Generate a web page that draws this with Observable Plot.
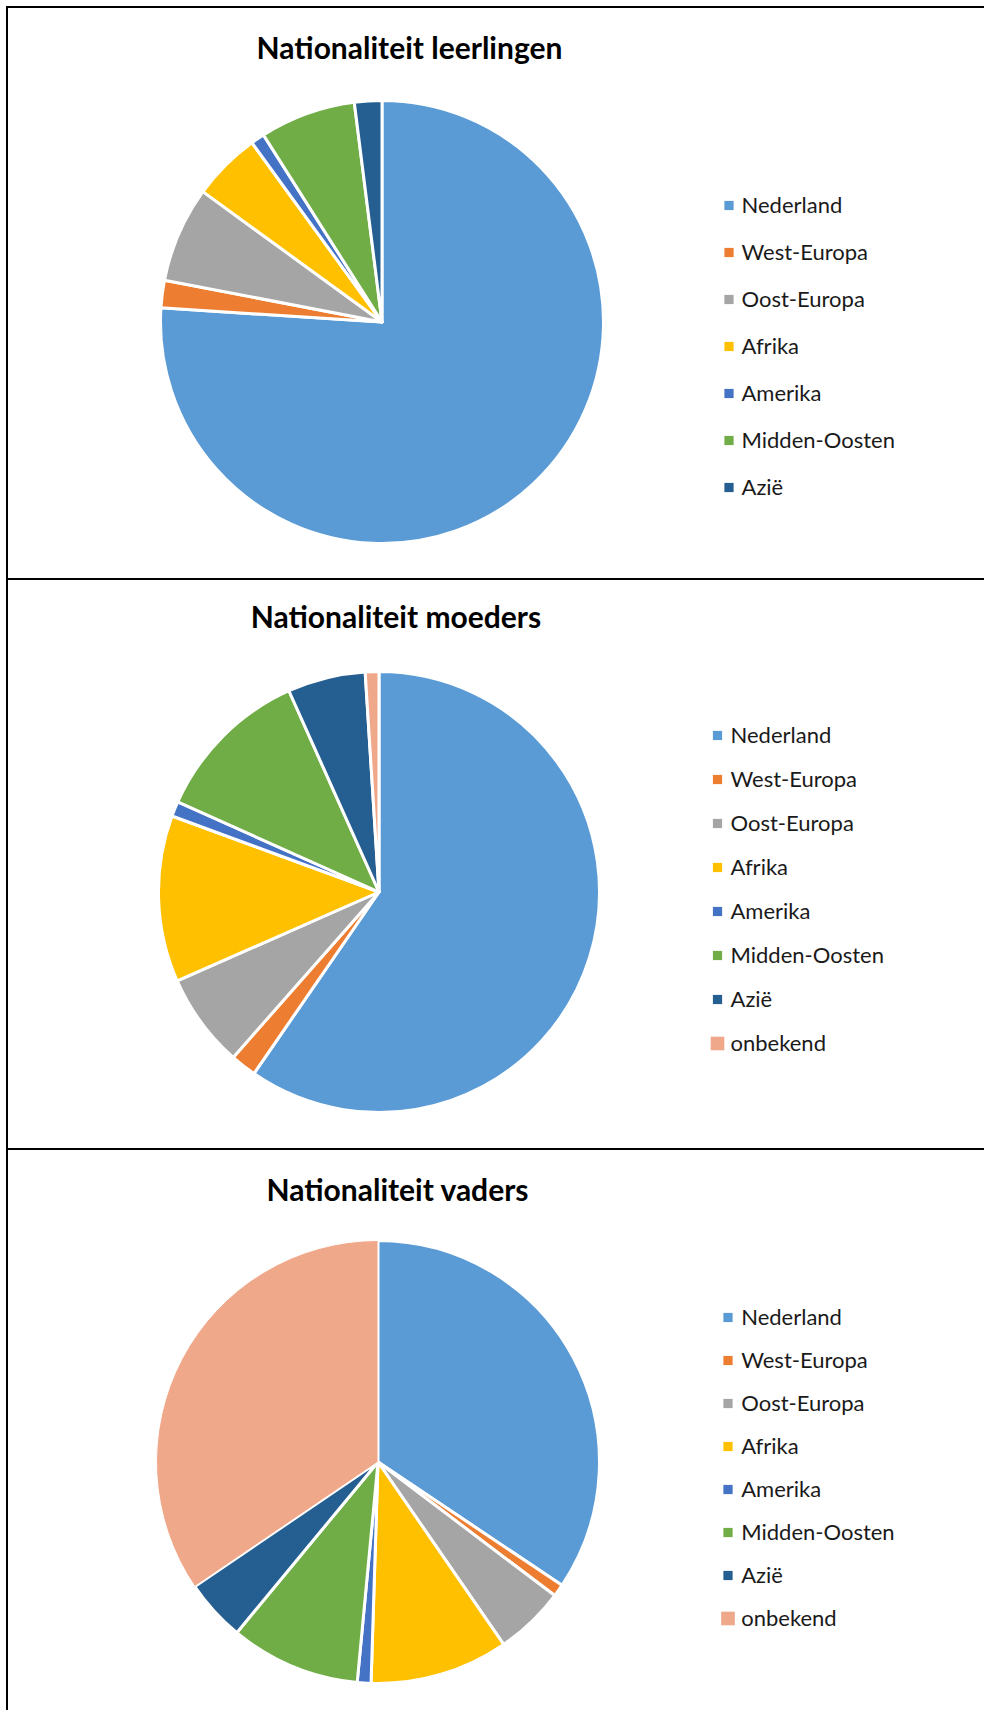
<!DOCTYPE html>
<html>
<head>
<meta charset="utf-8">
<script src="https://cdn.jsdelivr.net/npm/d3@7"></script>
<script src="https://cdn.jsdelivr.net/npm/@observablehq/plot@0.6"></script>
<style>
  html, body { margin: 0; padding: 0; background: #fff; overflow: hidden; }
  body { position: relative; width: 984px; height: 1710px; font-family: Lato, "Open Sans", sans-serif; }
  .panel { position: absolute; left: 0; }
  .panel svg { display: block; background: transparent; }
  .rule { position: absolute; background: #000; z-index: 5; }
</style>
</head>
<body>
<div id="p1" class="panel" style="top:8px"></div>
<div id="p2" class="panel" style="top:580px"></div>
<div id="p3" class="panel" style="top:1150px"></div>
<div class="rule" style="left:6px;top:6px;width:2px;height:1704px"></div>
<div class="rule" style="left:6px;top:6px;width:978px;height:2px"></div>
<div class="rule" style="left:6px;top:578px;width:978px;height:2px"></div>
<div class="rule" style="left:6px;top:1148px;width:978px;height:2px"></div>
<script>
// ---- data ----
const categories = ["Nederland", "West-Europa", "Oost-Europa", "Afrika", "Amerika", "Midden-Oosten", "Azië", "onbekend"];
const colors = ["#5B9BD5", "#ED7D31", "#A5A5A5", "#FFC000", "#4472C4", "#70AD47", "#255E91", "#F0A88B"];
const titles = ["Nationaliteit leerlingen", "Nationaliteit moeders", "Nationaliteit vaders"];
const leerlingen = [76.1, 2.0, 7.0, 5.0, 1.0, 7.0, 2.0];
const moeders = [59.6, 1.9, 6.9, 12.2, 1.1, 11.6, 5.7, 1.0];
const vaders = [34.4, 0.9, 5.1, 10.1, 1.0, 9.5, 4.5, 34.5];

// ---- layout (per panel, pixels inside each panel's svg) ----
const panels = [
  {id: "p1", values: leerlingen, title: titles[0], height: 570,
   titleX: 409, titleY: 50, cx: 382, cy: 314, r: 220,
   markerX: 728.5, textX: 741, legendTop: 195.6, legendBottom: 480, thin: null},
  {id: "p2", values: moeders, title: titles[1], height: 568,
   titleX: 395.5, titleY: 47, cx: 379, cy: 312, r: 219,
   markerX: 717, textX: 730, legendTop: 154.7, legendBottom: 463.3, thin: null},
  {id: "p3", values: vaders, title: titles[2], height: 560,
   titleX: 397, titleY: 50, cx: 378, cy: 312, r: 220,
   markerX: 727.5, textX: 740.7, legendTop: 163.5, legendBottom: 471, thin: "onbekend"}
];

const fallbackColor = d3.scaleOrdinal(categories, colors);

function pieMark(rows, p) {
  return (index, scales) => {
    const color = scales && scales.color ? scales.color : fallbackColor;
    const arcs = d3.pie().sort(null).startAngle(0).endAngle(2 * Math.PI).value(d => d.value)(rows);
    const arc = d3.arc().innerRadius(0).outerRadius(p.r + 1.5);
    const g = d3.create("svg:g").attr("transform", `translate(${p.cx},${p.cy})`);
    g.selectAll("path").data(arcs).join("path")
      .attr("d", arc)
      .attr("fill", d => color(d.data.category))
      .attr("stroke", "#fff")
      .attr("stroke-width", d => d.data.category === p.thin ? 1 : 3)
      .attr("stroke-linejoin", "round");
    return g.node();
  };
}

for (const p of panels) {
  const rows = p.values.map((v, i) => ({category: categories[i], value: v}));
  const legendCats = rows.map(d => d.category);
  const small = rows.filter(d => d.category !== "onbekend");
  const big = rows.filter(d => d.category === "onbekend");
  const chart = Plot.plot({
    width: 984,
    height: p.height,
    margin: 0,
    style: {background: "transparent", fontFamily: "Lato, 'Open Sans', sans-serif"},
    color: {domain: categories, range: colors},
    y: {type: "point", domain: legendCats, range: [p.legendTop, p.legendBottom], padding: 0, axis: null},
    marks: [
      pieMark(rows, p),
      Plot.dot(small, {y: "category", fill: "category", symbol: "square", r: 5.2, frameAnchor: "left", dx: p.markerX}),
      Plot.dot(big, {y: "category", fill: "category", symbol: "square", r: 7.7, frameAnchor: "left", dx: p.markerX}),
      Plot.text(rows, {y: "category", text: "category", frameAnchor: "left", dx: p.textX,
        textAnchor: "start", fontSize: 22, fill: "#1a1a1a", fontFamily: "Lato"}),
      Plot.text([p.title], {text: d => d, frameAnchor: "top-left", dx: p.titleX, dy: p.titleY,
        textAnchor: "middle", lineAnchor: "bottom", fontSize: 30, fontWeight: "bold", fill: "#000", fontFamily: "Lato"})
    ]
  });
  document.getElementById(p.id).appendChild(chart);
}
</script>
</body>
</html>
